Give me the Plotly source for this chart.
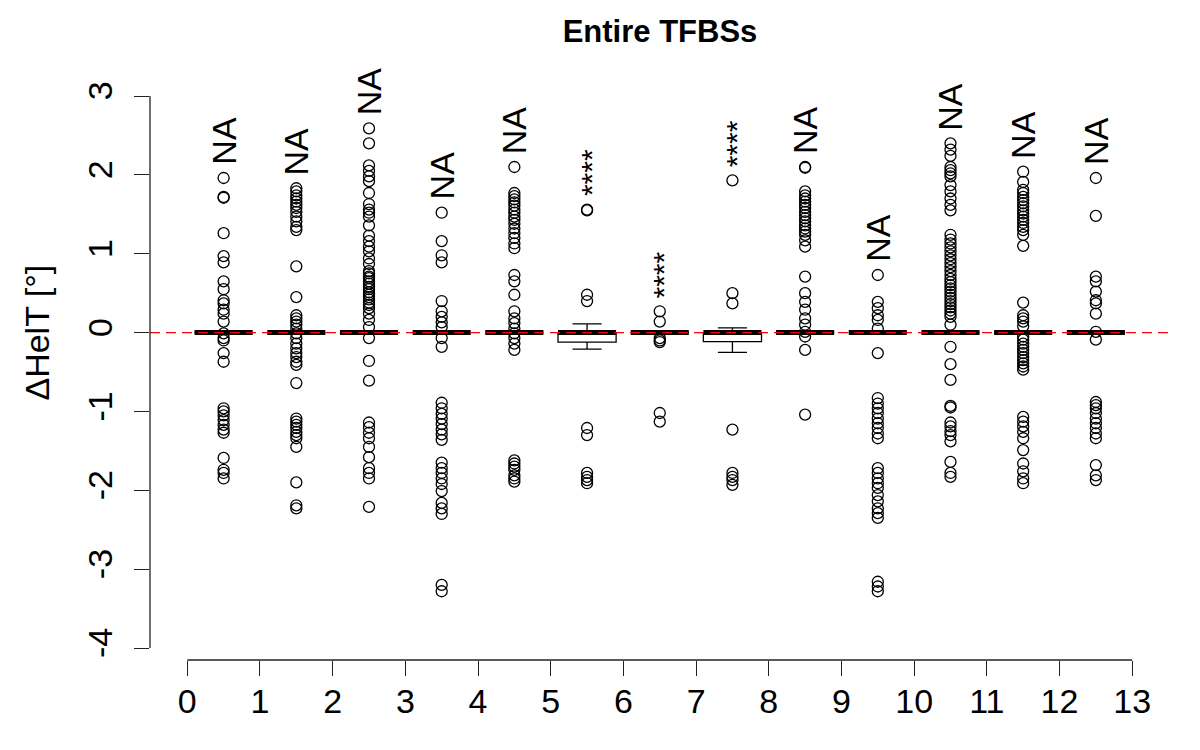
import plotly.graph_objects as go

# ---------------- data ----------------
positions = [0.5, 1.5, 2.5, 3.5, 4.5, 5.5, 6.5, 7.5, 8.5, 9.5, 10.5, 11.5, 12.5]
group_labels = ["NA", "NA", "NA", "NA", "NA", "****", "****", "****", "NA", "NA", "NA", "NA", "NA"]

box_q1 = [0, 0, 0, 0, 0, -0.12, 0, -0.115, 0, 0, 0, 0, 0]
box_median = [0, 0, 0, 0, 0, 0, 0, 0, 0, 0, 0, 0, 0]
box_q3 = [0, 0, 0, 0, 0, 0, 0, 0, 0, 0, 0, 0, 0]
box_low = [0, 0, 0, 0, 0, -0.21, 0, -0.25, 0, 0, 0, 0, 0]
box_high = [0, 0, 0, 0, 0, 0.11, 0, 0.06, 0, 0, 0, 0, 0]

out_g0 = [1.96, 1.72, 1.71, 1.26, 0.97, 0.89, 0.65, 0.55, 0.41, 0.37, 0.29, 0.24, 0.14, -0.01,
          -0.07, -0.10, -0.26, -0.37, -0.96, -1.00, -1.05, -1.11, -1.17, -1.23, -1.27, -1.59,
          -1.74, -1.78, -1.85]
out_g1 = [1.83, 1.79, 1.74, 1.70, 1.66, 1.62, 1.58, 1.53, 1.47, 1.41, 1.34, 1.30, 0.84, 0.45,
          0.22, 0.18, 0.14, 0.10, 0.05, -0.01, -0.07, -0.14, -0.20, -0.26, -0.31, -0.37, -0.41,
          -0.64, -1.09, -1.13, -1.17, -1.21, -1.26, -1.30, -1.34, -1.45, -1.90, -2.19, -2.23]
out_g2 = [2.59, 2.40, 2.12, 2.05, 1.98, 1.92, 1.77, 1.63, 1.56, 1.52, 1.47, 1.36, 1.23, 1.16,
          1.09, 1.03, 0.94, 0.87, 0.78, 0.75, 0.71, 0.69, 0.65, 0.62, 0.58, 0.55, 0.51, 0.48,
          0.45, 0.42, 0.38, 0.35, 0.31, 0.24, 0.16, 0.07, -0.07, -0.36, -0.61, -1.14, -1.20,
          -1.27, -1.34, -1.45, -1.58, -1.72, -1.78, -1.85, -2.21]
out_g3 = [1.52, 1.16, 0.98, 0.89, 0.40, 0.27, 0.20, 0.13, 0.07, -0.07, -0.18, -0.89, -0.96,
          -1.03, -1.09, -1.16, -1.23, -1.29, -1.36, -1.65, -1.72, -1.78, -1.85, -1.92, -2.01,
          -2.16, -2.23, -2.30, -3.20, -3.28]
out_g4 = [2.10, 1.77, 1.73, 1.69, 1.65, 1.61, 1.56, 1.52, 1.47, 1.43, 1.38, 1.32, 1.26, 1.20,
          1.13, 1.07, 0.73, 0.65, 0.48, 0.27, 0.18, 0.12, 0.05, -0.01, -0.07, -0.14, -0.22,
          -1.62, -1.66, -1.70, -1.74, -1.81, -1.85, -1.89]
out_g5 = [1.56, 1.55, 0.48, 0.40, -1.21, -1.30, -1.78, -1.83, -1.87, -1.91]
out_g6 = [0.27, 0.14, -0.07, -0.10, -0.12, -1.02, -1.13]
out_g7 = [1.93, 0.50, 0.37, -1.23, -1.78, -1.83, -1.87, -1.93]
out_g8 = [2.10, 2.09, 1.79, 1.74, 1.70, 1.66, 1.62, 1.58, 1.53, 1.49, 1.45, 1.41, 1.36, 1.32,
          1.28, 1.24, 1.17, 1.09, 0.71, 0.50, 0.39, 0.29, 0.18, 0.10, 0.01, -0.05, -0.22, -1.04]
out_g9 = [0.73, 0.39, 0.31, 0.22, 0.16, 0.05, -0.26, -0.83, -0.90, -0.96, -1.02, -1.09, -1.15,
          -1.21, -1.28, -1.34, -1.72, -1.78, -1.85, -1.91, -1.97, -2.06, -2.14, -2.23, -2.29,
          -2.35, -3.16, -3.22, -3.28]
out_g10 = [2.40, 2.32, 2.24, 2.10, 2.06, 2.02, 1.98, 1.87, 1.79, 1.70, 1.62, 1.55, 1.24, 1.18,
           1.13, 1.08, 1.03, 0.98, 0.93, 0.88, 0.83, 0.78, 0.73, 0.68, 0.64, 0.60, 0.56, 0.52,
           0.48, 0.44, 0.40, 0.36, 0.32, 0.28, 0.24, 0.20, 0.10, -0.18, -0.40, -0.60, -0.93,
           -0.95, -1.14, -1.19, -1.25, -1.30, -1.38, -1.64, -1.78, -1.83]
out_g11 = [2.04, 1.91, 1.81, 1.77, 1.72, 1.68, 1.64, 1.60, 1.55, 1.51, 1.47, 1.43, 1.39, 1.34,
           1.30, 1.24, 1.10, 0.38, 0.22, 0.18, 0.14, 0.08, -0.05, -0.09, -0.14, -0.18, -0.22,
           -0.26, -0.31, -0.35, -0.39, -0.43, -0.47, -1.07, -1.13, -1.19, -1.26, -1.34, -1.49,
           -1.66, -1.76, -1.85, -1.91]
out_g12 = [1.96, 1.48, 0.71, 0.65, 0.52, 0.41, 0.37, 0.24, 0.01, -0.09, -0.88, -0.92, -0.96,
           -1.02, -1.09, -1.15, -1.21, -1.28, -1.34, -1.68, -1.81, -1.87]

x_ticks = list(range(0, 14))
y_ticks = [-4, -3, -2, -1, 0, 1, 2, 3]

title_text = "Entire TFBSs"
y_title = "ΔHelT [°]"

# ---------------- figure ----------------
outliers = [out_g0, out_g1, out_g2, out_g3, out_g4, out_g5, out_g6, out_g7,
            out_g8, out_g9, out_g10, out_g11, out_g12]

X_RANGE = [-0.513, 13.52]
Y_RANGE = [-4.152, 3.203]
FONT = "Liberation Sans, Arial, Helvetica, sans-serif"
TXT = 34

fig = go.Figure()

fig.add_trace(go.Box(
    x=positions, q1=box_q1, median=box_median, q3=box_q3,
    lowerfence=box_low, upperfence=box_high,
    boxpoints=False, width=0.8, whiskerwidth=0.5,
    fillcolor="white", line=dict(color="black", width=1.3),
    hoverinfo="skip", showlegend=False,
))

# thick median bars (R: medlwd = 3)
fig.add_trace(go.Scatter(
    x=positions, y=box_median, mode="markers",
    marker=dict(symbol="line-ew", size=41.5, color="black",
                line=dict(color="black", width=5)),
    hoverinfo="skip", showlegend=False,
))

ox, oy = [], []
for p, vals in zip(positions, outliers):
    ox += [p] * len(vals)
    oy += vals
fig.add_trace(go.Scatter(
    x=ox, y=oy, mode="markers", cliponaxis=False,
    marker=dict(symbol="circle-open", size=11, color="black",
                line=dict(color="black", width=1.3)),
    hoverinfo="skip", showlegend=False,
))

# red dashed reference line at 0
fig.add_shape(type="line", xref="paper", x0=0, x1=1, yref="y", y0=0, y1=0,
              line=dict(color="#ff0000", width=1.3, dash="10px,6px"), layer="above")

# R-style detached axis lines spanning only the tick range
fig.add_shape(type="line", xref="x", x0=x_ticks[0], x1=x_ticks[-1], yref="paper", y0=0, y1=0,
              line=dict(color="#222222", width=1.3))
yspan = Y_RANGE[1] - Y_RANGE[0]
fig.add_shape(type="line", xref="paper", x0=0, x1=0, yref="paper",
              y0=(y_ticks[0] - Y_RANGE[0]) / yspan, y1=(y_ticks[-1] - Y_RANGE[0]) / yspan,
              line=dict(color="#222222", width=1.3))

# group significance labels
for p, lab, vals, hi in zip(positions, group_labels, outliers, box_high):
    top = max(max(vals), hi)
    stars = lab.startswith("*")
    fig.add_annotation(x=p, y=top, xref="x", yref="y", text=lab, showarrow=False,
                       textangle=-90, xanchor="center", yanchor="bottom", yshift=11,
                       xshift=4 if stars else 0,
                       font=dict(family=FONT, size=30 if stars else TXT, color="black"))

# y-axis title
fig.add_annotation(x=(37 - 150) / 1020, y=0, xref="paper", yref="y", text=y_title,
                   showarrow=False, textangle=-90, xanchor="center", yanchor="middle",
                   font=dict(family=FONT, size=TXT, color="black"))

fig.update_layout(
    width=1200, height=750,
    margin=dict(l=150, r=30, t=80, b=90),
    paper_bgcolor="white", plot_bgcolor="white",
    font=dict(family=FONT, color="black"),
    title=dict(text="<b>" + title_text + "</b>", x=0.5, xref="paper",
               y=1 - 31 / 750, yanchor="middle",
               font=dict(family=FONT, size=31, color="black")),
    showlegend=False,
    boxmode="overlay",
)
fig.update_xaxes(range=X_RANGE, tickvals=x_ticks, ticktext=[str(v) for v in x_ticks],
                 showgrid=False, zeroline=False, showline=False,
                 ticks="outside", ticklen=15, tickwidth=1.3, tickcolor="#222222",
                 tickfont=dict(family=FONT, size=TXT, color="black"), ticklabelstandoff=-4)
fig.update_yaxes(range=Y_RANGE, tickvals=y_ticks, ticktext=[str(v) for v in y_ticks],
                 showgrid=False, zeroline=False, showline=False,
                 ticks="outside", ticklen=15, tickwidth=1.3, tickcolor="#222222",
                 tickangle=-90,
                 tickfont=dict(family=FONT, size=TXT, color="black"), ticklabelstandoff=8)

fig.write_html("out.html", config={"displayModeBar": False},
               post_script="document.body.style.margin='0';")
